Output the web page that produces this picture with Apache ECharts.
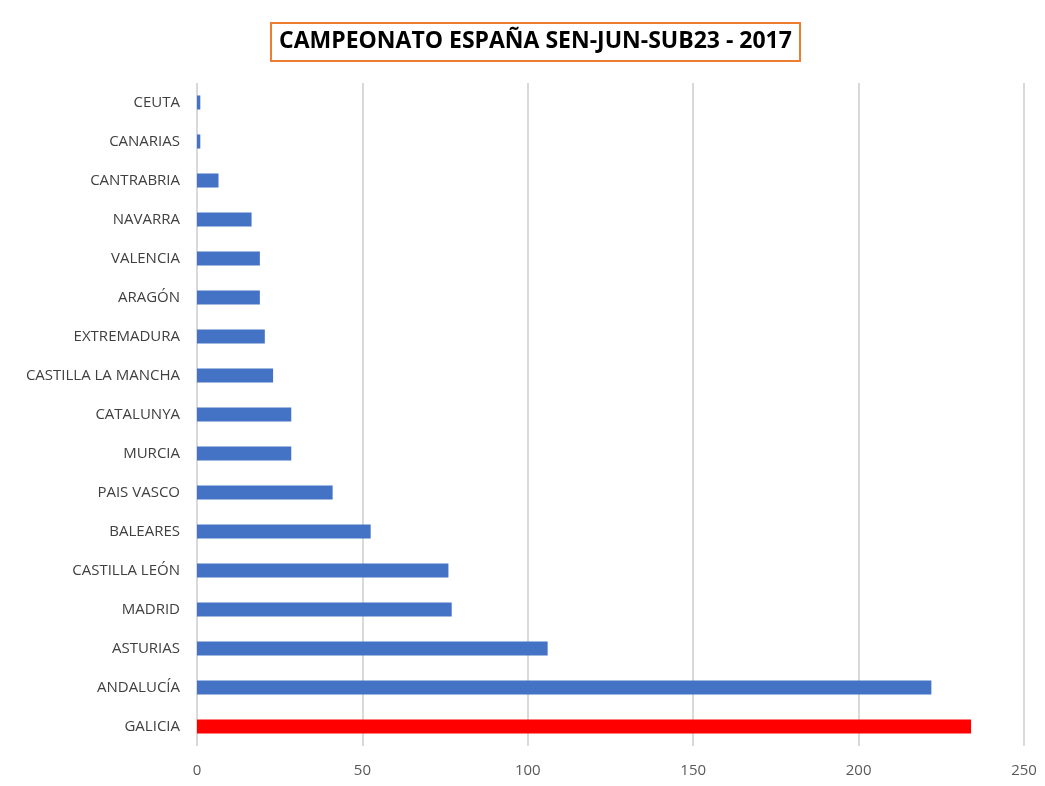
<!DOCTYPE html>
<html>
<head>
<meta charset="utf-8">
<script src="https://cdn.jsdelivr.net/npm/echarts@6/dist/echarts.min.js"></script>
<style>
  html, body { margin: 0; padding: 0; background: #fff; }
  #chart { width: 1045px; height: 786px; }
</style>
</head>
<body>
<div id="chart"></div>
<script>
  // comunidades, de abajo (GALICIA) hacia arriba (CEUTA)
  var regions = ['GALICIA', 'ANDALUCÍA', 'ASTURIAS', 'MADRID', 'CASTILLA LEÓN', 'BALEARES',
    'PAIS VASCO', 'MURCIA', 'CATALUNYA', 'CASTILLA LA MANCHA', 'EXTREMADURA', 'ARAGÓN',
    'VALENCIA', 'NAVARRA', 'CANTRABRIA', 'CANARIAS', 'CEUTA'];
  var points = [234, 222, 106, 77, 76, 52.5, 41, 28.5, 28.5, 23, 20.5, 19, 19, 16.5, 6.5, 1, 1];
  var highlight = 'GALICIA';

  var chart = echarts.init(document.getElementById('chart'));
  var option = {
    animation: false,
    title: {
      text: 'CAMPEONATO ESPAÑA SEN-JUN-SUB23 - 2017',
      left: 271,
      top: 23,
      borderColor: '#ED7D31',
      borderWidth: 2,
      padding: [7, 8, 8, 8],
      textStyle: {
        fontFamily: 'Open Sans',
        fontWeight: 'bold',
        fontSize: 23,
        color: '#000'
      }
    },
    grid: {
      left: 197,
      right: 21,
      top: 83,
      bottom: 40,
      containLabel: false
    },
    xAxis: {
      type: 'value',
      min: 0,
      max: 250,
      interval: 50,
      axisLine: { show: false },
      axisTick: { show: false },
      axisLabel: {
        margin: 17,
        fontFamily: 'Open Sans',
        fontSize: 15,
        color: '#595959'
      },
      splitLine: { lineStyle: { color: '#d9d9d9', width: 2 } }
    },
    yAxis: {
      type: 'category',
      data: regions,
      axisLine: { show: false },
      axisTick: { show: false },
      axisLabel: {
        margin: 17,
        fontFamily: 'Open Sans',
        fontSize: 15,
        color: '#404040'
      }
    },
    series: [{
      type: 'bar',
      barWidth: '36%',
      data: points.map(function (v, i) {
        return {
          value: v,
          itemStyle: { color: regions[i] === highlight ? '#FF0000' : '#4472C4' }
        };
      })
    }]
  };
  chart.setOption(option);
</script>
</body>
</html>
